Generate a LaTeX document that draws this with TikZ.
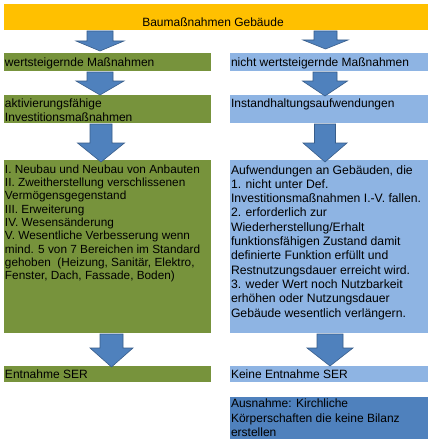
\documentclass[tikz,border=0pt]{standalone}
\usepackage{fontspec}
\setmainfont{Liberation Sans}
\definecolor{cYel}{HTML}{FFC000}
\definecolor{cGrn}{HTML}{77933C}
\definecolor{cLBlue}{HTML}{8EB4E3}
\definecolor{cDBlue}{HTML}{4F81BD}
\definecolor{cArr}{HTML}{4F81BD}
\definecolor{cArrD}{HTML}{385D8A}
\newcommand\tb[4]{\parbox[c][#2][t]{#1}{\vspace*{#3}\raggedright\strut#4\par}}
\newcommand\barr[6]{\draw[barrow] (#1-#5,#2) -- (#1+#5,#2) -- (#1+#5,#3) -- (#1+#6,#3) -- (#1,#4) -- (#1-#6,#3) -- (#1-#5,#3) -- cycle;}
\begin{document}
\begin{tikzpicture}[x=1pt,y=-1pt,
  every node/.style={inner sep=0pt, outer sep=0pt},
  txt/.style={font=\fontsize{12}{13.6}\selectfont},
  box/.style={txt, anchor=north west, inner xsep=1pt, inner ysep=0pt, align=left},
  barrow/.style={fill=cArr, draw=cArrD, line width=0.6pt, line join=miter}]
\useasboundingbox (0,0) rectangle (433,444);
\fill[white] (0,0) rectangle (433,444);
% top bar
\node[txt, fill=cYel, anchor=north west, minimum width=424pt, minimum height=26pt] (top) at (4,4) {};
\node[txt] (toptxt) at (213,22) {Baumaßnahmen Gebäude};
% row 2
\node[box, fill=cGrn] (l2) at (4,53) {\tb{205pt}{18pt}{3.8pt}{wertsteigernde Maßnahmen}};
\node[box, fill=cLBlue] (r2) at (230,53) {\tb{196pt}{18pt}{3.8pt}{nicht wertsteigernde Maßnahmen}};
% row 3
\node[box, fill=cGrn, font=\fontsize{12}{14.2}\selectfont] (l3) at (4,95) {\tb{205pt}{28pt}{2.6pt}{aktivierungsfähige\\Investitionsmaßnahmen}};
\node[box, fill=cLBlue] (r3) at (230,95) {\tb{196pt}{28pt}{2.6pt}{Instandhaltungsaufwendungen}};
% row 4
\node[box, fill=cGrn, font=\fontsize{11.8}{13.3}\selectfont] (l4) at (4,160) {\tb{205pt}{173pt}{4pt}{I. Neubau und Neubau von Anbauten\\
II. Zweitherstellung verschlissenen\\
Vermögensgegenstand\\
III. Erweiterung\\
IV. Wesensänderung\\
V. Wesentliche Verbesserung wenn\\
mind. 5 von 7 Bereichen im Standard\\
gehoben \ (Heizung, Sanitär, Elektro,\\
Fenster, Dach, Fassade, Boden)}};
\node[box, fill=cLBlue, font=\fontsize{12.2}{14.3}\selectfont] (r4) at (230,160) {\tb{196pt}{173pt}{4pt}{Aufwendungen an Gebäuden, die\\
1. nicht unter Def.\\
Investitionsmaßnahmen I.-V. fallen.\\
2. erforderlich zur\\
Wiederherstellung/Erhalt\\
funktionsfähigen Zustand damit\\
definierte Funktion erfüllt und\\
Restnutzungsdauer erreicht wird.\\
3. weder Wert noch Nutzbarkeit\\
erhöhen oder Nutzungsdauer\\
Gebäude wesentlich verlängern.}};
% row 5
\node[box, fill=cGrn] (l5) at (4,366) {\tb{205pt}{16pt}{2.8pt}{Entnahme SER}};
\node[box, fill=cLBlue] (r5) at (230,366) {\tb{196pt}{16pt}{2.8pt}{Keine Entnahme SER}};
% exception
\node[box, fill=cDBlue, font=\fontsize{12}{14.5}\selectfont] (ex) at (230,397) {\tb{196pt}{42pt}{0.8pt}{Ausnahme: Kirchliche\\Körperschaften die keine Bilanz\\erstellen}};
% block arrows
\barr{100}{31}{41}{51}{13}{24}
\barr{325.5}{31}{40}{49}{11.5}{22.5}
\barr{100}{72}{81}{95}{13}{24}
\barr{325}{72}{81}{96}{12}{22.5}
\barr{101}{124}{143}{162}{11}{23.5}
\barr{325}{124}{143}{162}{10.5}{22}
\barr{111.5}{334}{348}{367}{11.5}{21.5}
\barr{330}{334}{348}{366}{13}{23}
\end{tikzpicture}
\end{document}
